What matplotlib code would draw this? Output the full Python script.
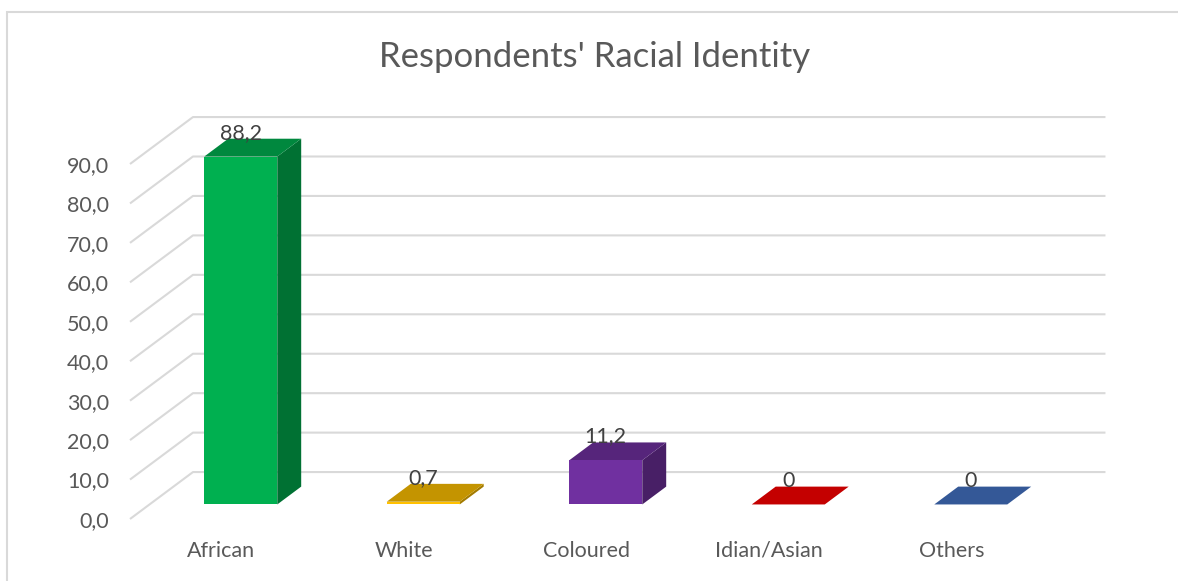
"""
Respondents' Racial Identity — Excel-style 3D column chart, redrawn with matplotlib.
"""

import matplotlib.pyplot as plt
from matplotlib.colors import to_rgb
from matplotlib.patches import Polygon, Rectangle

plt.rcParams["font.family"] = ["Lato", "DejaVu Sans"]

# data
CATEGORIES = ["African", "White", "Coloured", "Idian/Asian", "Others"]
PERCENT = [88.2, 0.7, 11.2, 0, 0]
Y_TICKS = [0, 10, 20, 30, 40, 50, 60, 70, 80, 90]
COLORS = ["#00B050", "#FFC000", "#7030A0", "#FF0000", "#4472C4"]

TITLE = "Respondents' Racial Identity"
TEXT_COLOR = "#595959"
GRID_COLOR = "#D9D9D9"

# oblique depth of the floor (in data units) and bar position inside it
DEPTH_X = 0.345
DEPTH_Y = 11.9
BAR_D0, BAR_D1 = 0.31, 0.69
BAR_WIDTH = 0.4


def shade(color, k):
    r, g, b = to_rgb(color)
    return (r * k, g * k, b * k)


def proj(x, y, d):
    """Front-plane data point pushed back by depth fraction d."""
    return (x + d * DEPTH_X, y + d * DEPTH_Y)


def fmt_comma(v, spec):
    return format(v, spec).replace(".", ",")


W, H = 1178, 581
fig = plt.figure(figsize=(W / 100, H / 100), dpi=100)

# chart border (only left and top edges fall inside the picture)
fig.patches.append(Rectangle((6.5 / W, -0.1), 1.2, 1.1 - 11.5 / H, transform=fig.transFigure,
                             fill=False, edgecolor=GRID_COLOR, linewidth=1.5))

fig.text(595 / W, 1 - 57 / H, TITLE, ha="center", va="center", fontsize=25, color=TEXT_COLOR)

ax = fig.add_axes([130 / W, (H - 519) / H, 912.5 / W, (519 - 164) / H])
ax.set_xlim(-0.5, len(CATEGORIES) - 0.5)
ax.set_ylim(0, 90)
for s in ax.spines.values():
    s.set_visible(False)
ax.set_xticks([])
ax.set_yticks(Y_TICKS, [fmt_comma(v, ".1f") for v in Y_TICKS])
ax.tick_params(axis="y", length=0, pad=15, labelsize=15.5, labelcolor=TEXT_COLOR)

# gridlines: diagonal on the side wall, horizontal on the back wall
x_left, x_right = -0.5, len(CATEGORIES) - 0.5
for v in Y_TICKS:
    p0 = (x_left, v)
    p1 = proj(x_left, v, 1)
    p2 = proj(x_right, v, 1)
    ax.plot([p0[0], p1[0], p2[0]], [p0[1], p1[1], p2[1]], color=GRID_COLOR,
            linewidth=1.5, clip_on=False, zorder=1, solid_capstyle="butt")

# bars
for i, (name, v, c) in enumerate(zip(CATEGORIES, PERCENT, COLORS)):
    xl, xr = i - BAR_WIDTH / 2, i + BAR_WIDTH / 2
    fl, fr = proj(xl, 0, BAR_D0), proj(xr, 0, BAR_D0)
    front = [fl, fr, proj(xr, v, BAR_D0), proj(xl, v, BAR_D0)]
    side = [fr, proj(xr, 0, BAR_D1), proj(xr, v, BAR_D1), proj(xr, v, BAR_D0)]
    top = [proj(xl, v, BAR_D0), proj(xr, v, BAR_D0), proj(xr, v, BAR_D1), proj(xl, v, BAR_D1)]
    ax.add_patch(Polygon(side, closed=True, facecolor=shade(c, 0.64), edgecolor="none",
                         clip_on=False, zorder=3))
    ax.add_patch(Polygon(top, closed=True, facecolor=shade(c, 0.77), edgecolor="none",
                         clip_on=False, zorder=3))
    ax.add_patch(Polygon(front, closed=True, facecolor=c, edgecolor="none",
                         clip_on=False, zorder=4))

    lx, ly = proj(i, v, BAR_D0)[0], proj(i, v, BAR_D1)[1]
    ax.text(lx, ly, fmt_comma(v, "g"), ha="center", va="baseline", fontsize=15.5,
            color="#404040", zorder=5, clip_on=False)

    ax.annotate(name, (i, 0), xytext=(0, -23), textcoords="offset points",
                ha="center", va="center", fontsize=15.5, color=TEXT_COLOR,
                annotation_clip=False)

fig.savefig("out.png", dpi=100)
